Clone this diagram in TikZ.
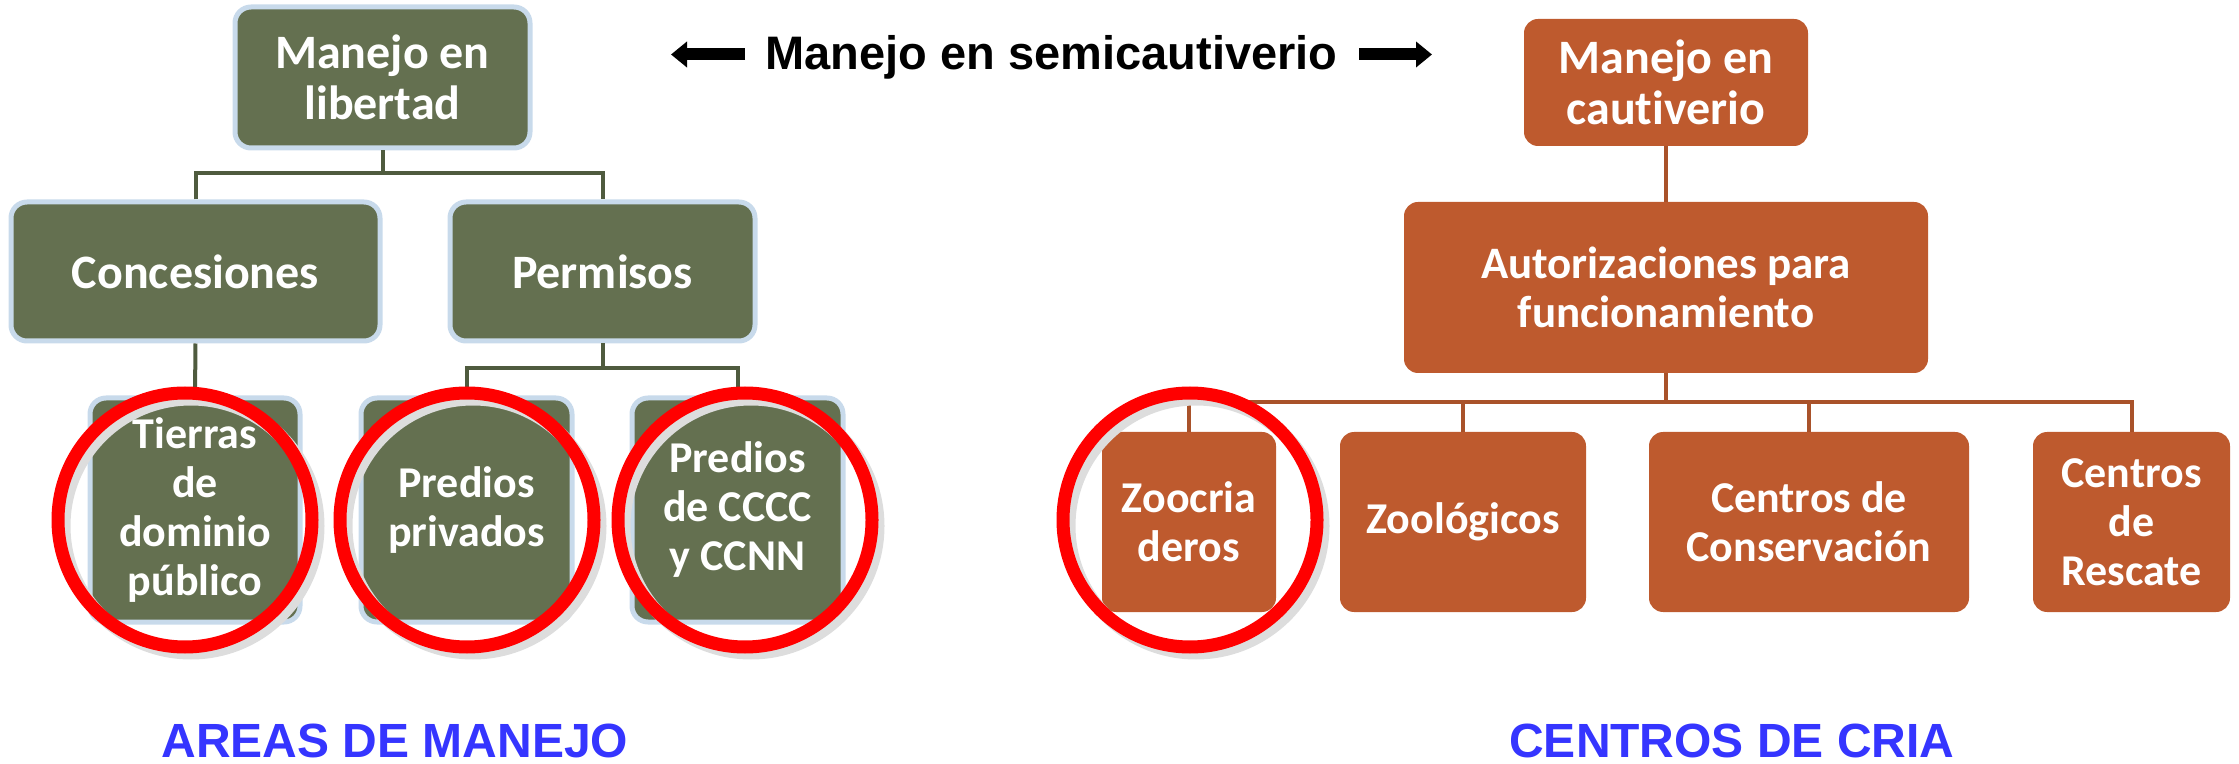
\documentclass[tikz,border=0pt]{standalone}
\usepackage{fontspec}
\setmainfont{Carlito}[Ligatures=NoCommon]
\newfontfamily\arialfont{Liberation Sans}
\usetikzlibrary{arrows.meta}
\definecolor{grn}{HTML}{647050}
\definecolor{gline}{HTML}{4F5B3E}
\definecolor{gblue}{HTML}{C8DAEB}
\definecolor{org}{HTML}{BE5A2E}
\definecolor{oline}{HTML}{A9522A}
\definecolor{ringred}{HTML}{FF0000}
\definecolor{shgray}{HTML}{DDDDDD}
\definecolor{lblblue}{HTML}{3535FF}
\begin{document}
\begin{tikzpicture}[x=0.5pt,y=-0.5pt,
  wh/.style 2 args={minimum width=#1*0.5pt, minimum height=#2*0.5pt},
  gbox/.style={fill=grn, draw=gblue, line width=2.5pt, rounded corners=8pt, text=white, align=center, inner sep=0pt},
  obox/.style={fill=org, rounded corners=7pt, text=white, align=center, inner sep=0pt},
  bigf/.style={font=\bfseries\fontsize{24pt}{25.5pt}\selectfont},
  midf/.style={font=\bfseries\fontsize{22.5pt}{24.5pt}\selectfont},
  smallf/.style={font=\bfseries\fontsize{22pt}{24.5pt}\selectfont},
  gconn/.style={draw=gline, line width=2pt},
  oconn/.style={draw=oline, line width=2pt},
  ring/.style={circle, draw=ringred, line width=6.5pt, minimum size=127pt, inner sep=0pt},
  ringsh/.style={circle, draw=shgray, line width=6.5pt, minimum size=127pt, inner sep=0pt},
  blockarrow/.style={line width=6pt, -{Triangle[width=12.5pt,length=8pt]}},
  lbl/.style={text=lblblue, font=\arialfont\bfseries\fontsize{24pt}{26pt}\selectfont, inner sep=0pt}
]
\useasboundingbox (0,0) rectangle (2239,764);

% green tree
\node[gbox, bigf, wh={295}{141}] (lib) at (382.5,77.5) {Manejo en\\libertad};
\node[gbox, bigf, wh={369}{139}] (conc) at (195.5,271.5) {Concesiones};
\node[gbox, bigf, wh={305}{139}] (perm) at (602.5,271.5) {Permisos};
\node[gbox, smallf, wh={210}{224}] (tier) at (195,510) {Tierras\\de\\dominio\\público};
\node[gbox, smallf, wh={211}{224}] (priv) at (466.5,510) {Predios\\privados};
\node[gbox, smallf, wh={211}{224}] (cccc) at (737.5,510) {Predios\\de CCCC\\y CCNN};

\coordinate (gj1) at (382.5,173);
\coordinate (gj2) at (602.5,368);
\draw[gconn] (lib.south) -- (gj1);
\draw[gconn] (conc.north) |- (gj1) -| (perm.north);
\draw[gconn] (conc.south) -- (tier.north);
\draw[gconn] (perm.south) -- (gj2);
\draw[gconn] (priv.north) |- (gj2) -| (cccc.north);

% orange tree
\node[obox, bigf, wh={284}{127}] (caut) at (1666,82.5) {Manejo en\\cautiverio};
\node[obox, midf, wh={524}{171}] (aut) at (1666,287.5) {Autorizaciones para\\funcionamiento};
\node[obox, smallf, wh={174}{180}] (zoo) at (1189,522) {Zoocria\\deros};
\node[obox, smallf, wh={246}{180}] (zool) at (1463,522) {Zoológicos};
\node[obox, smallf, wh={320}{180}] (cons) at (1809,522) {Centros de\\Conservación};
\node[obox, smallf, wh={197}{180}] (resc) at (2131.5,522) {Centros\\de\\Rescate};

\coordinate (oj) at (1666,402);
\draw[oconn] (caut.south) -- (aut.north);
\draw[oconn] (aut.south) -- (oj);
\draw[oconn] (zoo.north) |- (oj) -| (resc.north);
\draw[oconn] (zool.north) -- (zool.north |- oj);
\draw[oconn] (cons.north) -- (cons.north |- oj);

% red rings with shadow
\node[ringsh] (s1) at (191,526) {};
\node[ringsh] (s2) at (473,526) {};
\node[ringsh] (s3) at (751,526) {};
\node[ringsh] (s4) at (1196,526) {};
\node[ring] (r1) at (185,520) {};
\node[ring] (r2) at (467,520) {};
\node[ring] (r3) at (745,520) {};
\node[ring] (r4) at (1190,520) {};

% semicaptivity label with arrows
\node[font=\arialfont\bfseries\fontsize{23.5pt}{26pt}\selectfont, anchor=base, inner sep=0pt] (semi) at (1051.5,70) {Manejo en semicautiverio};
\coordinate (la1) at (745,54.5);
\coordinate (la2) at (671,54.5);
\coordinate (ra1) at (1359,54.5);
\coordinate (ra2) at (1432,54.5);
\draw[blockarrow] (la1) -- (la2);
\draw[blockarrow] (ra1) -- (ra2);

% bottom labels
\node[lbl, anchor=base] (areas) at (395,757) {AREAS DE MANEJO};
\node[lbl, anchor=base] (cria) at (1732,757) {CENTROS DE CRIA};
\end{tikzpicture}
\end{document}
